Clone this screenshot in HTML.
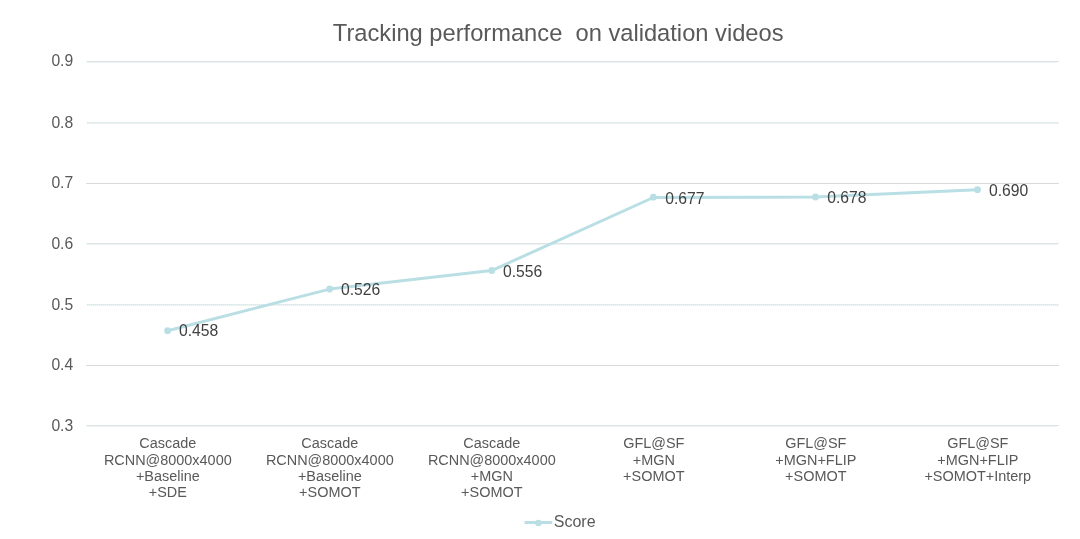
<!DOCTYPE html>
<html>
<head>
<meta charset="utf-8">
<title>Tracking performance on validation videos</title>
<style>
  html, body { margin: 0; padding: 0; background: #ffffff; }
  body { width: 1080px; height: 539px; position: relative; overflow: hidden;
         font-family: "Liberation Sans", sans-serif; }
  .t { position: absolute; white-space: pre; line-height: 1; }
  #title { left: 332.8px; top: 21.6px; font-size: 23.7px; color: #595959; }
  .yl { left: 30px; width: 43.2px; text-align: right; font-size: 15.7px; color: #595959; }
  .dl { font-size: 15.7px; color: #404040; }
  .cl { width: 162px; text-align: center; font-size: 14.45px; color: #595959; }
  #leg { left: 553.8px; top: 513.5px; font-size: 16px; color: #595959; }
  svg { position: absolute; left: 0; top: 0; }
  #txt { position: absolute; left: 0; top: 0; width: 1080px; height: 539px; will-change: transform; }
</style>
</head>
<body>
<svg width="1080" height="539" viewBox="0 0 1080 539">
  <!-- gridlines -->
  <g shape-rendering="crispEdges">
    <rect x="86" y="61" width="1" height="1" fill="#e6f3f5"/>
    <rect x="87" y="61" width="972" height="1" fill="#e3e3e3"/>
    <rect x="87" y="62" width="970" height="1" fill="#e8f4f6"/>
    <rect x="87" y="122" width="972" height="1" fill="#e7f4f6"/>
    <rect x="87" y="123" width="972" height="1" fill="#f0f0f0"/>
    <rect x="86" y="183" width="973" height="1" fill="#dadada"/>
    <rect x="86" y="243" width="1" height="1" fill="#e6f3f5"/>
    <rect x="87" y="243" width="972" height="1" fill="#e3e3e3"/>
    <rect x="87" y="244" width="970" height="1" fill="#e8f4f6"/>
    <rect x="87" y="304" width="972" height="1" fill="#e7f4f6"/>
    <rect x="87" y="305" width="972" height="1" fill="#f0f0f0"/>
    <rect x="86" y="365" width="973" height="1" fill="#dadada"/>
    <rect x="86" y="425" width="973" height="1" fill="#e3e3e3"/>
    <rect x="87" y="426" width="970" height="1" fill="#e8f4f6"/>
  </g>
  <g stroke="#e0e0e0" stroke-width="1" stroke-dasharray="1 1" fill="none">
    <line x1="87" y1="122.5" x2="1059" y2="122.5"/>
    <line x1="87" y1="304.5" x2="1059" y2="304.5"/>
  </g>
  <!-- series -->
  <polyline points="167.5,330.8 329.6,289.1 491.6,270.6 653.3,197.5 815.5,197.1 977.5,189.7"
            fill="none" stroke="#b9dfe4" stroke-width="3" stroke-linejoin="round" stroke-linecap="round"/>
  <g fill="#b9dfe4">
    <circle cx="167.6" cy="330.7" r="3.4"/>
    <circle cx="329.7" cy="289.0" r="3.4"/>
    <circle cx="491.8" cy="270.5" r="3.4"/>
    <circle cx="653.3" cy="197.2" r="3.4"/>
    <circle cx="815.5" cy="197.0" r="3.4"/>
    <circle cx="977.5" cy="189.7" r="3.4"/>
  </g>
  <!-- legend -->
  <line x1="524.6" y1="522.5" x2="552.2" y2="522.5" stroke="#b9dfe4" stroke-width="3"/>
  <circle cx="538.4" cy="523" r="3.3" fill="#b9dfe4"/>
</svg>

<div id="txt">
<div class="t" id="title">Tracking performance  on validation videos</div>

<div class="t yl" style="top:52.8px">0.9</div>
<div class="t yl" style="top:114.8px">0.8</div>
<div class="t yl" style="top:174.8px">0.7</div>
<div class="t yl" style="top:235.8px">0.6</div>
<div class="t yl" style="top:296.8px">0.5</div>
<div class="t yl" style="top:356.8px">0.4</div>
<div class="t yl" style="top:417.8px">0.3</div>

<div class="t dl" style="left:179px;top:322.8px">0.458</div>
<div class="t dl" style="left:341px;top:281.8px">0.526</div>
<div class="t dl" style="left:503px;top:263.8px">0.556</div>
<div class="t dl" style="left:665.2px;top:190.8px">0.677</div>
<div class="t dl" style="left:827.2px;top:189.8px">0.678</div>
<div class="t dl" style="left:989px;top:182.8px">0.690</div>

<div class="t cl" style="left:86.8px;top:435.87px">Cascade</div>
<div class="t cl" style="left:86.8px;top:452.87px">RCNN@8000x4000</div>
<div class="t cl" style="left:86.8px;top:468.87px">+Baseline</div>
<div class="t cl" style="left:86.8px;top:484.87px">+SDE</div>

<div class="t cl" style="left:248.8px;top:435.87px">Cascade</div>
<div class="t cl" style="left:248.8px;top:452.87px">RCNN@8000x4000</div>
<div class="t cl" style="left:248.8px;top:468.87px">+Baseline</div>
<div class="t cl" style="left:248.8px;top:484.87px">+SOMOT</div>

<div class="t cl" style="left:410.8px;top:435.87px">Cascade</div>
<div class="t cl" style="left:410.8px;top:452.87px">RCNN@8000x4000</div>
<div class="t cl" style="left:410.8px;top:468.87px">+MGN</div>
<div class="t cl" style="left:410.8px;top:484.87px">+SOMOT</div>

<div class="t cl" style="left:572.8px;top:435.87px">GFL@SF</div>
<div class="t cl" style="left:572.8px;top:452.87px">+MGN</div>
<div class="t cl" style="left:572.8px;top:468.87px">+SOMOT</div>

<div class="t cl" style="left:734.8px;top:435.87px">GFL@SF</div>
<div class="t cl" style="left:734.8px;top:452.87px">+MGN+FLIP</div>
<div class="t cl" style="left:734.8px;top:468.87px">+SOMOT</div>

<div class="t cl" style="left:896.8px;top:435.87px">GFL@SF</div>
<div class="t cl" style="left:896.8px;top:452.87px">+MGN+FLIP</div>
<div class="t cl" style="left:896.8px;top:468.87px">+SOMOT+Interp</div>

<div class="t" id="leg">Score</div>
</div>
</body>
</html>
